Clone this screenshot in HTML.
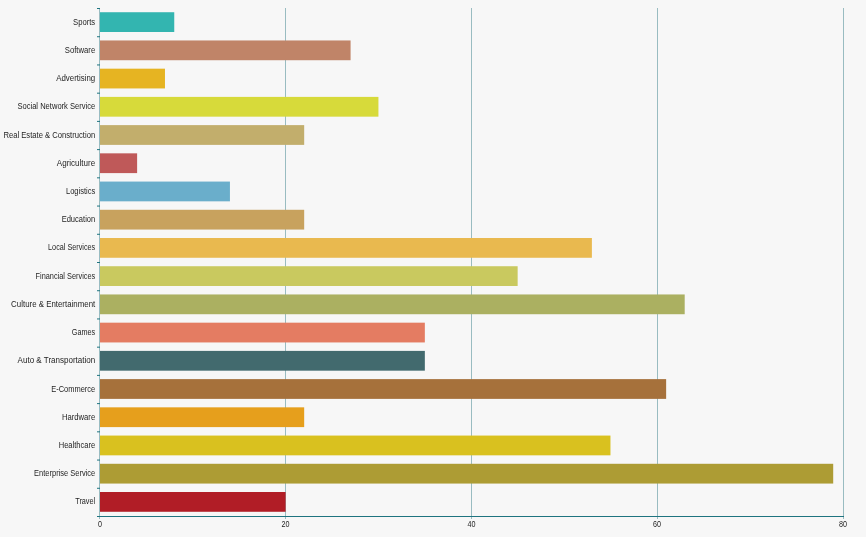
<!DOCTYPE html>
<html><head><meta charset="utf-8"><style>
html,body{margin:0;padding:0;background:#f7f7f7;}
body{width:866px;height:537px;overflow:hidden;position:relative;}
svg{display:block;position:absolute;left:0;top:0;}
.tx{will-change:transform;}
text{font-family:"Liberation Sans",sans-serif;fill:#1e1e1e;}
</style></head><body>
<svg width="866" height="537" viewBox="0 0 866 537">
<rect width="866" height="537" fill="#f7f7f7"/>
<rect x="285" y="8" width="1" height="511" fill="#99bcc1"/>
<rect x="471" y="8" width="1" height="511" fill="#99bcc1"/>
<rect x="657" y="8" width="1" height="511" fill="#99bcc1"/>
<rect x="843" y="8" width="1" height="511" fill="#99bcc1"/>
<rect x="99" y="8" width="1" height="511" fill="#99bcc1"/>
<rect x="100" y="12.23" width="74.25" height="19.76" fill="#33b5b0"/>
<rect x="100" y="40.46" width="250.59" height="19.76" fill="#c08468"/>
<rect x="100" y="68.68" width="64.97" height="19.76" fill="#e6b422"/>
<rect x="100" y="96.90" width="278.43" height="19.76" fill="#d7da3a"/>
<rect x="100" y="125.12" width="204.18" height="19.76" fill="#c2ae6c"/>
<rect x="100" y="153.34" width="37.12" height="19.76" fill="#bf5959"/>
<rect x="100" y="181.57" width="129.93" height="19.76" fill="#6aaecb"/>
<rect x="100" y="209.79" width="204.18" height="19.76" fill="#c8a25e"/>
<rect x="100" y="238.01" width="491.89" height="19.76" fill="#e9b94f"/>
<rect x="100" y="266.23" width="417.65" height="19.76" fill="#c9c95f"/>
<rect x="100" y="294.46" width="584.70" height="19.76" fill="#abb061"/>
<rect x="100" y="322.68" width="324.84" height="19.76" fill="#e47c62"/>
<rect x="100" y="350.90" width="324.84" height="19.76" fill="#426a6e"/>
<rect x="100" y="379.12" width="566.14" height="19.76" fill="#a6713b"/>
<rect x="100" y="407.34" width="204.18" height="19.76" fill="#e69f1c"/>
<rect x="100" y="435.57" width="510.46" height="19.76" fill="#d9c11f"/>
<rect x="100" y="463.79" width="733.20" height="19.76" fill="#ad9c34"/>
<rect x="100" y="492.01" width="185.62" height="19.76" fill="#b11d26"/>
<rect x="97" y="8.0" width="3" height="1" fill="#1f7480"/>
<rect x="97" y="36.22" width="3" height="1" fill="#1f7480"/>
<rect x="97" y="64.44" width="3" height="1" fill="#1f7480"/>
<rect x="97" y="92.67" width="3" height="1" fill="#1f7480"/>
<rect x="97" y="120.89" width="3" height="1" fill="#1f7480"/>
<rect x="97" y="149.11" width="3" height="1" fill="#1f7480"/>
<rect x="97" y="177.33" width="3" height="1" fill="#1f7480"/>
<rect x="97" y="205.56" width="3" height="1" fill="#1f7480"/>
<rect x="97" y="233.78" width="3" height="1" fill="#1f7480"/>
<rect x="97" y="262.0" width="3" height="1" fill="#1f7480"/>
<rect x="97" y="290.22" width="3" height="1" fill="#1f7480"/>
<rect x="97" y="318.44" width="3" height="1" fill="#1f7480"/>
<rect x="97" y="346.67" width="3" height="1" fill="#1f7480"/>
<rect x="97" y="374.89" width="3" height="1" fill="#1f7480"/>
<rect x="97" y="403.11" width="3" height="1" fill="#1f7480"/>
<rect x="97" y="431.33" width="3" height="1" fill="#1f7480"/>
<rect x="97" y="459.56" width="3" height="1" fill="#1f7480"/>
<rect x="97" y="487.78" width="3" height="1" fill="#1f7480"/>
<rect x="97" y="516.0" width="3" height="1" fill="#1f7480"/>
<rect x="97" y="516" width="747" height="1" fill="#1f7480"/>
</svg>
<svg class="tx" width="866" height="537" viewBox="0 0 866 537">
<text transform="translate(95.2,25) scale(0.8801,1)" text-anchor="end" font-size="8.7">Sports</text>
<text transform="translate(95.2,53) scale(0.8864,1)" text-anchor="end" font-size="8.7">Software</text>
<text transform="translate(95.2,81) scale(0.9073,1)" text-anchor="end" font-size="8.7">Advertising</text>
<text transform="translate(95.2,109) scale(0.8709,1)" text-anchor="end" font-size="8.7">Social Network Service</text>
<text transform="translate(95.2,138) scale(0.8791,1)" text-anchor="end" font-size="8.7">Real Estate &amp; Construction</text>
<text transform="translate(95.2,166) scale(0.9246,1)" text-anchor="end" font-size="8.7">Agriculture</text>
<text transform="translate(95.2,194) scale(0.8636,1)" text-anchor="end" font-size="8.7">Logistics</text>
<text transform="translate(95.2,222) scale(0.8670,1)" text-anchor="end" font-size="8.7">Education</text>
<text transform="translate(95.2,250) scale(0.8336,1)" text-anchor="end" font-size="8.7">Local Services</text>
<text transform="translate(95.2,279) scale(0.8454,1)" text-anchor="end" font-size="8.7">Financial Services</text>
<text transform="translate(95.2,307) scale(0.9060,1)" text-anchor="end" font-size="8.7">Culture &amp; Entertainment</text>
<text transform="translate(95.2,335) scale(0.8352,1)" text-anchor="end" font-size="8.7">Games</text>
<text transform="translate(95.2,363) scale(0.9235,1)" text-anchor="end" font-size="8.7">Auto &amp; Transportation</text>
<text transform="translate(95.2,392) scale(0.8598,1)" text-anchor="end" font-size="8.7">E-Commerce</text>
<text transform="translate(95.2,420) scale(0.8839,1)" text-anchor="end" font-size="8.7">Hardware</text>
<text transform="translate(95.2,448) scale(0.8687,1)" text-anchor="end" font-size="8.7">Healthcare</text>
<text transform="translate(95.2,476) scale(0.8593,1)" text-anchor="end" font-size="8.7">Enterprise Service</text>
<text transform="translate(95.2,504) scale(0.8393,1)" text-anchor="end" font-size="8.7">Travel</text>
<text transform="translate(99.9,527) scale(0.867,1)" text-anchor="middle" font-size="8.3">0</text>
<text transform="translate(285.6,527) scale(0.867,1)" text-anchor="middle" font-size="8.3">20</text>
<text transform="translate(471.4,527) scale(0.867,1)" text-anchor="middle" font-size="8.3">40</text>
<text transform="translate(657.1,527) scale(0.867,1)" text-anchor="middle" font-size="8.3">60</text>
<text transform="translate(842.9,527) scale(0.867,1)" text-anchor="middle" font-size="8.3">80</text>
</svg></body></html>
